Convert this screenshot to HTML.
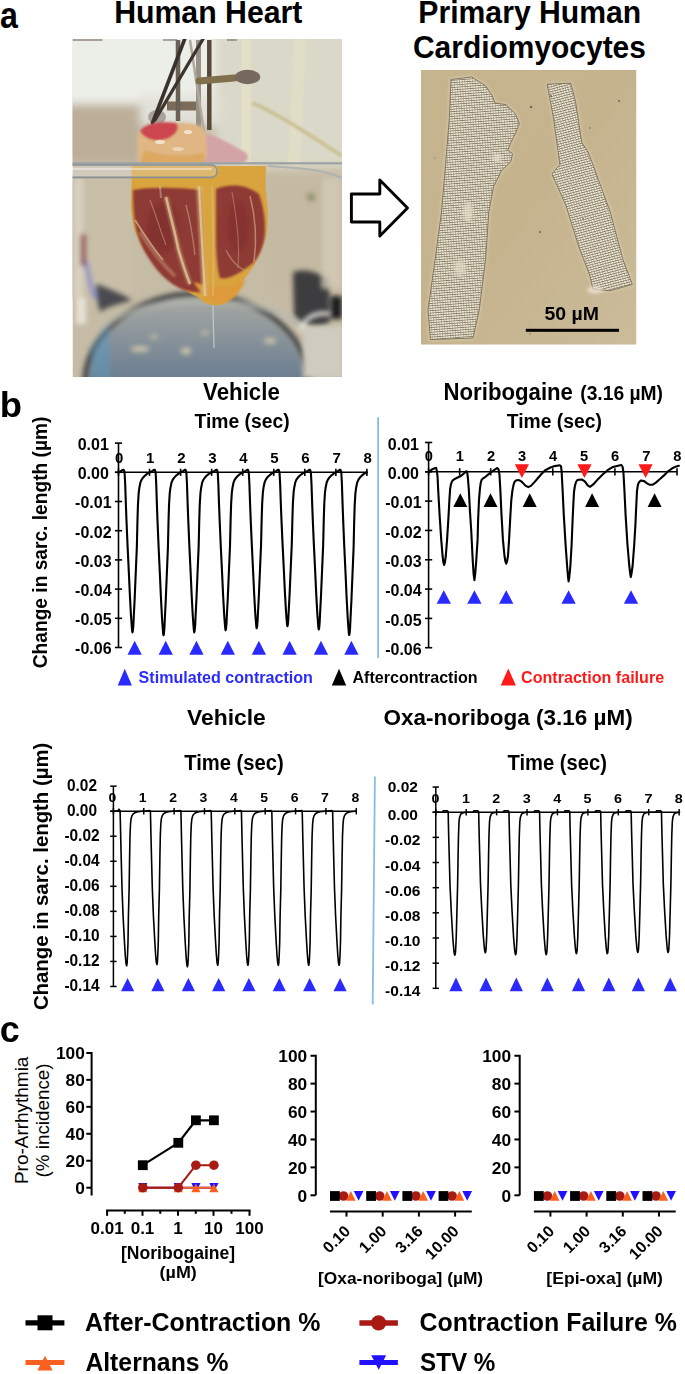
<!DOCTYPE html>
<html><head><meta charset="utf-8"><style>
html,body{margin:0;padding:0;background:#fff;width:685px;height:1374px;overflow:hidden}
svg{display:block}
text{font-family:"Liberation Sans",sans-serif}
</style></head><body>
<svg width="685" height="1374" viewBox="0 0 685 1374">
<text x="0.08" y="27.70" font-size="36.11" font-weight="bold" textLength="17.89" lengthAdjust="spacingAndGlyphs" fill="#000">a</text>
<text x="114.13" y="23.00" font-size="31.88" font-weight="bold" textLength="188.28" lengthAdjust="spacingAndGlyphs" fill="#000">Human Heart</text>
<text x="418.34" y="23.10" font-size="31.59" font-weight="bold" textLength="222.92" lengthAdjust="spacingAndGlyphs" fill="#000">Primary Human</text>
<text x="413.00" y="57.70" font-size="31.71" font-weight="bold" textLength="232.92" lengthAdjust="spacingAndGlyphs" fill="#000">Cardiomyocytes</text>
<defs><clipPath id="hc"><rect x="72.5" y="39" width="269.5" height="338"/></clipPath><filter id="b05" x="-20%" y="-20%" width="140%" height="140%"><feGaussianBlur stdDeviation="0.6"/></filter><filter id="b1" x="-20%" y="-20%" width="140%" height="140%"><feGaussianBlur stdDeviation="1.2"/></filter><filter id="b2" x="-20%" y="-20%" width="140%" height="140%"><feGaussianBlur stdDeviation="2.5"/></filter><filter id="b4" x="-30%" y="-30%" width="160%" height="160%"><feGaussianBlur stdDeviation="5"/></filter><linearGradient id="disc" x1="0" y1="0" x2="0" y2="1"><stop offset="0" stop-color="#a7aaa4"/><stop offset="0.22" stop-color="#8a949a"/><stop offset="0.45" stop-color="#6d7f91"/><stop offset="1" stop-color="#66809a"/></linearGradient></defs>
<g clip-path="url(#hc)">
<rect x="72.5" y="39" width="269.5" height="338" fill="#c6bca6"/>
<g filter="url(#b4)"><rect x="60" y="30" width="175" height="74" fill="#eceee8"/><rect x="215" y="30" width="140" height="138" fill="#dad8c8"/><rect x="60" y="104" width="80" height="58" fill="#bcae99"/><rect x="140" y="95" width="80" height="30" fill="#e2e2da"/><rect x="60" y="178" width="72" height="120" fill="#c9bfa9"/><rect x="266" y="178" width="80" height="120" fill="#c4b9a1"/></g>
<g filter="url(#b1)" opacity="0.95"><path d="M246,39 V165" stroke="#e4e0c8" stroke-width="10"/><path d="M300,39 L294,165" stroke="#e2dec6" stroke-width="12"/><path d="M252,103 C270,110 290,122 342,156" stroke="#cbbf92" stroke-width="3.5" fill="none"/></g>
<g filter="url(#b05)"><path d="M167,106 H199" stroke="#7a6c58" stroke-width="9"/><ellipse cx="157" cy="117" rx="9" ry="7" fill="#a8a298"/><path d="M178,40 V121" stroke="#675e55" stroke-width="4.5"/><path d="M198.5,40 V134" stroke="#9a9186" stroke-width="5"/><path d="M209.3,40 V130" stroke="#574838" stroke-width="4.5"/><path d="M190,40 L204,132" stroke="#b0a89c" stroke-width="2.5"/><path d="M184.7,39 L152.5,123" stroke="#3a332e" stroke-width="3.6" stroke-linecap="round"/><path d="M203,39 L155,120" stroke="#3d352f" stroke-width="3.4" stroke-linecap="round"/><path d="M199,81 L234,78" stroke="#80704c" stroke-width="7" stroke-linecap="round"/><ellipse cx="247.5" cy="77" rx="12.8" ry="7.2" fill="#76695e"/><rect x="72.5" y="39" width="30" height="2" fill="#8a7f70" opacity="0.7"/><rect x="163" y="39" width="14" height="2" fill="#7a7068" opacity="0.6"/><rect x="227" y="39" width="10" height="2" fill="#7a7068" opacity="0.6"/></g>
<g filter="url(#b2)"><rect x="74" y="178" width="9" height="120" fill="#dcd6c8" opacity="0.8"/><path d="M96,284 C108,288 122,294 132,300 C120,304 108,306 100,312 C97,302 96,292 96,284 Z" fill="#33363f" opacity="0.85"/><path d="M86,262 C88,275 91,288 95,298" stroke="#5a6ee0" stroke-width="4" fill="none" opacity="0.6"/><rect x="80.5" y="234" width="5" height="32" fill="#7a2a36" opacity="0.8"/><rect x="76" y="298" width="10" height="26" fill="#e6e2d6"/><path d="M293,272 C305,268 318,272 329,279 L330,322 C318,330 300,325 294,315 Z" fill="#3d3d40"/><rect x="331" y="296" width="11" height="23" fill="#1f1f23"/><rect x="322" y="178" width="20" height="110" fill="#d2cab6" opacity="0.8"/><circle cx="311" cy="197" r="4" fill="#8c9070"/></g>
<g filter="url(#b2)"><ellipse cx="197" cy="384" rx="112" ry="90" fill="none" stroke="#45464a" stroke-width="6"/><ellipse cx="197" cy="384" rx="108" ry="86" fill="url(#disc)"/><path d="M100,330 C120,310 160,302 200,301 C240,301 280,308 300,325" stroke="#b4b8b2" stroke-width="5" fill="none" opacity="0.7"/><path d="M92,350 C95,340 100,332 110,325 L110,377 L92,377 Z" fill="#5a9ac0" opacity="0.5"/><ellipse cx="140" cy="349" rx="9" ry="2.5" fill="#d0c8aa"/><ellipse cx="186" cy="351" rx="5" ry="3" fill="#d0c8aa"/><ellipse cx="154" cy="337" rx="4" ry="1.6" fill="#d0c8aa"/><ellipse cx="270" cy="341" rx="6" ry="2.5" fill="#d0c8aa"/><ellipse cx="205" cy="333" rx="4" ry="1.6" fill="#d0c8aa"/></g>
<path d="M213,305 C213,320 214,335 214,348" stroke="#d8dde0" stroke-width="1.2" opacity="0.7" fill="none"/>
<g filter="url(#b2)"><rect x="303" y="326" width="40" height="52" fill="#cfcbc0"/><path d="M300,330 C305,318 315,312 330,314" stroke="#e8e6e0" stroke-width="4" fill="none"/></g>
<g filter="url(#b1)"><path d="M204,134 C215,134 232,145 245,152 C250,156 248,162 242,163 L204,163 Z" fill="#d3a4a6"/><path d="M137.5,140 C137,128 150,122.5 172,122.8 C190,123 203,124 205,132 C208,145 207,158 204,164 L139,164 C137,156 137.5,148 137.5,140 Z" fill="#e0b684"/><path d="M140,131 C146,123 160,121 176,123 C181,128 175,136 166,139 C156,142 145,140 140,131 Z" fill="#cc4450"/><path d="M145,150 C160,156 190,158 204,152 L204,163 L140,163 Z" fill="#dca65a" opacity="0.8"/></g>
<g filter="url(#b05)" opacity="0.8"><ellipse cx="160" cy="142" rx="5" ry="2" fill="#f6eee0"/><ellipse cx="188" cy="132" rx="4" ry="2" fill="#f6eee0"/><ellipse cx="178" cy="149" rx="6" ry="2" fill="#efdcc0"/></g>
<g filter="url(#b05)"><path d="M131.6,166 L266.2,166 C265,180 265.5,190 267.3,204 C268,215 268,228 266,236 C264,244 260,254 254.2,265.1 C250,272 246,277 243.2,280.4 C238,287 236,290 234.5,291.4 C231,296 229,299 228,300 C224,304 220,305.6 217,305.6 C211,305 207,304 203.8,302.3 C200,299 198,297 195,295.8 C188,292 184,290 179.7,287 C172,282 168,279 164.4,276 C158,270 154,265 151.3,260.7 C146,253 143,249 140.3,243.2 C137,236 135,231 133.8,225.7 C131.5,216 131,210 131.1,203.8 C131,196 131.3,188 131.6,182 Z" fill="#d9a33e"/></g>
<g filter="url(#b1)"><path d="M133,190 C150,187 175,187 200,190 C202,215 203,240 204,262 C204,272 204,282 203,292 C192,293 182,290 174,285 C165,279 158,272 152,263 C144,252 139,241 136,229 C133.5,217 133,203 133,190 Z" fill="#8f3a36"/><path d="M216,189 C228,184 245,183 259,194 C265,210 266,230 264,240 C262,250 258,258 253,263 C247,268 241,272 235,275 C229,278 223,279 220,278 C217,270 216,250 216,236 C216,220 216,205 216,189 Z" fill="#8f3b36"/><path d="M194,282 C203,298 214,305 226,303 C234,299 240,292 246,280 C238,284 228,287 219,287 C210,287 201,285 194,282 Z" fill="#de9a3a"/></g>
<g filter="url(#b2)" opacity="0.5"><ellipse cx="163" cy="228" rx="17" ry="26" fill="#7a2a2c"/><ellipse cx="238" cy="226" rx="11" ry="26" fill="#7c2c2d"/></g>
<g filter="url(#b1)" fill="none" opacity="0.6"><path d="M166,197 C170,215 175,232 178,248 C182,262 186,274 190,284" stroke="#c9a078" stroke-width="5"/><path d="M199,186 C201,220 203,255 205,296" stroke="#d8b47c" stroke-width="6"/><path d="M140,232 C150,248 160,262 175,276" stroke="#c49070" stroke-width="3.5"/></g>
<g filter="url(#b05)" fill="none" opacity="0.85"><path d="M166,197 C170,215 175,232 178,248 C182,262 186,274 190,284" stroke="#dcc094" stroke-width="2.4"/><path d="M135,220 C145,236 153,248 163,260" stroke="#cfa886" stroke-width="1.6"/><path d="M186,205 C190,220 193,238 195,255" stroke="#cda486" stroke-width="1.3" opacity="0.7"/><path d="M199,186 C201,220 203,255 205,296" stroke="#e2c894" stroke-width="2.2"/><path d="M212,186 C213,220 214,255 213,296" stroke="#dcbc84" stroke-width="1.6" opacity="0.7"/><path d="M250,196 C255,215 257,240 254,262" stroke="#cfa888" stroke-width="1.5" opacity="0.8"/><path d="M150,200 C156,215 160,230 166,245" stroke="#c89a80" stroke-width="1.1" opacity="0.7"/><path d="M232,192 C236,215 240,240 238,268" stroke="#c99c84" stroke-width="1.1" opacity="0.6"/><path d="M226,250 C232,262 240,270 250,272" stroke="#d0a884" stroke-width="1.3" opacity="0.7"/><path d="M160,186 L161,198" stroke="#eeeeee" stroke-width="2" opacity="0.4"/></g>
<g filter="url(#b05)"><rect x="72" y="162.2" width="272" height="2.2" fill="#9ca2a4"/><path d="M72,164.5 H212 A6.5,6.5 0 0 1 212,177.5 H72 Z" fill="#e8ecec" opacity="0.3"/><path d="M72,165 H212 A6.3,6.3 0 0 1 212,177.4 H72" stroke="#868e94" stroke-width="1.6" fill="none"/><rect x="72" y="168" width="140" height="2" fill="#ffffff" opacity="0.4"/><path d="M268,166 C300,168 325,170 342,178" stroke="#aeb2b0" stroke-width="2" fill="none"/></g>
</g>
<defs><clipPath id="cc"><rect x="421" y="70" width="215.5" height="274.7"/></clipPath><pattern id="cellp" width="2.6" height="2.4" patternUnits="userSpaceOnUse" patternTransform="rotate(-4.4)"><rect width="2.6" height="2.4" fill="#f0eada"/><rect x="0" y="1.6" width="2.6" height="0.75" fill="#7a6f58"/><rect x="1.95" y="0" width="0.6" height="2.4" fill="#9d927a"/></pattern><pattern id="cellp2" width="2.6" height="2.4" patternUnits="userSpaceOnUse" patternTransform="rotate(-14.6)"><rect width="2.6" height="2.4" fill="#f0eada"/><rect x="0" y="1.6" width="2.6" height="0.75" fill="#7a6f58"/><rect x="1.95" y="0" width="0.6" height="2.4" fill="#9d927a"/></pattern><filter id="cb" x="-10%" y="-10%" width="120%" height="120%"><feGaussianBlur stdDeviation="0.5"/></filter><filter id="cb2" x="-20%" y="-20%" width="140%" height="140%"><feGaussianBlur stdDeviation="1.5"/></filter><linearGradient id="cbg" x1="0" y1="0" x2="1" y2="1"><stop offset="0" stop-color="#c6b48f"/><stop offset="0.5" stop-color="#c5b38e"/><stop offset="1" stop-color="#cbbb98"/></linearGradient></defs>
<g clip-path="url(#cc)">
<rect x="421.0" y="70.0" width="215.5" height="274.7" fill="url(#cbg)"/>
<g filter="url(#cb2)" opacity="0.55"><path d="M451,79.5 L471.5,77 L485.6,85.8 L492,95.2 L495,103 L506,104.7 L515.6,114.1 L519.4,123.6 L515.6,133 L510.9,142.5 L507.7,150.4 L512.5,153.6 L510.9,161.5 L501.4,170.9 L493.5,186.7 L488.8,211.9 L485.6,259.2 L479.3,309.7 L473,338 L430.5,339.6 L428,309.7 L435.2,259.2 L441.5,211.9 L445.6,164.6 L449.4,117.3 Z" fill="none" stroke="#e2d8c0" stroke-width="3"/><path d="M547.1,84.2 L570.8,83.2 L575.5,101.5 L581.8,142.5 L588.1,152 L592.9,164.6 L610.2,211.9 L622.8,259.2 L632.3,284.4 L610.2,290.8 L592.9,289.2 L589.7,275 L578.7,246.6 L566,205.6 L551.9,174.1 L559.8,164.6 L558.2,152 L553.4,117.3 Z" fill="none" stroke="#e2d8c0" stroke-width="3"/></g>
<g filter="url(#cb)"><path d="M451,79.5 L471.5,77 L485.6,85.8 L492,95.2 L495,103 L506,104.7 L515.6,114.1 L519.4,123.6 L515.6,133 L510.9,142.5 L507.7,150.4 L512.5,153.6 L510.9,161.5 L501.4,170.9 L493.5,186.7 L488.8,211.9 L485.6,259.2 L479.3,309.7 L473,338 L430.5,339.6 L428,309.7 L435.2,259.2 L441.5,211.9 L445.6,164.6 L449.4,117.3 Z" fill="url(#cellp)" stroke="#7a6e55" stroke-width="0.9"/><path d="M547.1,84.2 L570.8,83.2 L575.5,101.5 L581.8,142.5 L588.1,152 L592.9,164.6 L610.2,211.9 L622.8,259.2 L632.3,284.4 L610.2,290.8 L592.9,289.2 L589.7,275 L578.7,246.6 L566,205.6 L551.9,174.1 L559.8,164.6 L558.2,152 L553.4,117.3 Z" fill="url(#cellp2)" stroke="#7a6e55" stroke-width="0.9"/></g>
<g filter="url(#cb2)" opacity="0.7"><ellipse cx="468" cy="212" rx="5" ry="10" fill="#e6ddc8"/><ellipse cx="460" cy="268" rx="6" ry="8" fill="#e3d9c3"/><ellipse cx="497" cy="158" rx="5" ry="4" fill="#e8dfcb"/><ellipse cx="595" cy="290" rx="8" ry="4" fill="#ece5d4"/></g>
<circle cx="531" cy="107" r="1.2" fill="#5d5444" opacity="0.8"/>
<circle cx="551" cy="96" r="0.9" fill="#5d5444" opacity="0.8"/>
<circle cx="619" cy="101" r="1.0" fill="#5d5444" opacity="0.8"/>
<circle cx="590" cy="128" r="0.8" fill="#5d5444" opacity="0.8"/>
<circle cx="540" cy="232" r="1.0" fill="#5d5444" opacity="0.8"/>
<circle cx="583" cy="219" r="0.8" fill="#5d5444" opacity="0.8"/>
<circle cx="530" cy="334" r="0.7" fill="#5d5444" opacity="0.8"/>
<circle cx="435" cy="158" r="0.6" fill="#5d5444" opacity="0.8"/>
<circle cx="600" cy="330" r="0.8" fill="#5d5444" opacity="0.8"/>
<circle cx="560" cy="310" r="0.7" fill="#5d5444" opacity="0.8"/>
</g>
<text x="544.42" y="319.50" font-size="17.43" font-weight="bold" textLength="54.54" lengthAdjust="spacingAndGlyphs" fill="#000">50 µM</text>
<rect x="525.8" y="328.8" width="93.2" height="3" fill="#000"/>
<path d="M351.4,194 H379.8 V180 L407.5,208 L379.8,236 V222 H351.4 Z" fill="#fff" stroke="#000" stroke-width="2.9" stroke-linejoin="round"/>
<text x="-0.37" y="416.60" font-size="35.31" font-weight="bold" textLength="22.26" lengthAdjust="spacingAndGlyphs" fill="#000">b</text>
<g transform="rotate(-90)"><text x="-668.27" y="47.20" font-size="20.14" font-weight="bold" textLength="251.69" lengthAdjust="spacingAndGlyphs" fill="#000">Change in sarc. length (µm)</text></g>
<g transform="rotate(-90)"><text x="-1010.11" y="48.30" font-size="20.69" font-weight="bold" textLength="267.50" lengthAdjust="spacingAndGlyphs" fill="#000">Change in sarc. length (µm)</text></g>
<text x="203.08" y="400.00" font-size="23.77" font-weight="bold" textLength="76.73" lengthAdjust="spacingAndGlyphs" fill="#000">Vehicle</text>
<text x="194.51" y="427.70" font-size="19.57" font-weight="bold" textLength="95.12" lengthAdjust="spacingAndGlyphs" fill="#000">Time (sec)</text>
<text x="443.56" y="399.90" font-size="23.04" font-weight="bold" textLength="129.39" lengthAdjust="spacingAndGlyphs" fill="#000">Noribogaine</text>
<text x="580.24" y="400.10" font-size="19.86" font-weight="bold" textLength="82.71" lengthAdjust="spacingAndGlyphs" fill="#000">(3.16 µM)</text>
<text x="506.71" y="428.10" font-size="19.57" font-weight="bold" textLength="95.12" lengthAdjust="spacingAndGlyphs" fill="#000">Time (sec)</text>
<text x="187.07" y="724.90" font-size="22.46" font-weight="bold" textLength="78.65" lengthAdjust="spacingAndGlyphs" fill="#000">Vehicle</text>
<text x="184.20" y="769.50" font-size="21.16" font-weight="bold" textLength="99.48" lengthAdjust="spacingAndGlyphs" fill="#000">Time (sec)</text>
<text x="383.60" y="725.10" font-size="21.74" font-weight="bold" textLength="249.07" lengthAdjust="spacingAndGlyphs" fill="#000">Oxa-noriboga (3.16 µM)</text>
<text x="507.50" y="769.50" font-size="21.16" font-weight="bold" textLength="99.38" lengthAdjust="spacingAndGlyphs" fill="#000">Time (sec)</text>
<path d="M117.70,685.50 L131.90,685.50 L124.80,668.80 Z" fill="#2a2aff"/>
<text x="138.62" y="683.00" font-size="16.00" font-weight="bold" textLength="174.34" lengthAdjust="spacingAndGlyphs" fill="#2a2aff">Stimulated contraction</text>
<path d="M331.80,685.50 L346.20,685.50 L339.00,668.80 Z" fill="#000"/>
<text x="352.50" y="683.00" font-size="16.23" font-weight="bold" textLength="125.02" lengthAdjust="spacingAndGlyphs" fill="#000">Aftercontraction</text>
<path d="M500.70,685.60 L515.90,685.60 L508.30,668.60 Z" fill="#ff1a1a"/>
<text x="521.06" y="683.10" font-size="16.14" font-weight="bold" textLength="143.10" lengthAdjust="spacingAndGlyphs" fill="#ff1a1a">Contraction failure</text>
<path d="M378.1,417.2 V657.9" stroke="#86bde3" stroke-width="1.8"/>
<path d="M374.9,776.4 L372.7,1004.5" stroke="#86bde3" stroke-width="1.8"/>
<path d="M118.50,443.10 V647.50" stroke="#000" stroke-width="1.6" fill="none"/>
<path d="M114.90,472.30 H366.90" stroke="#000" stroke-width="1.6" fill="none"/>
<path d="M114.90,443.10 H122.10" stroke="#000" stroke-width="1.6"/>
<path d="M114.90,472.30 H122.10" stroke="#000" stroke-width="1.6"/>
<path d="M114.90,501.50 H122.10" stroke="#000" stroke-width="1.6"/>
<path d="M114.90,530.70 H122.10" stroke="#000" stroke-width="1.6"/>
<path d="M114.90,559.90 H122.10" stroke="#000" stroke-width="1.6"/>
<path d="M114.90,589.10 H122.10" stroke="#000" stroke-width="1.6"/>
<path d="M114.90,618.30 H122.10" stroke="#000" stroke-width="1.6"/>
<path d="M114.90,647.50 H122.10" stroke="#000" stroke-width="1.6"/>
<text x="93.30" y="450.08" font-size="16.00" font-weight="bold" text-anchor="middle" textLength="31.14" lengthAdjust="spacingAndGlyphs" fill="#000">0.01</text>
<text x="93.30" y="479.28" font-size="16.00" font-weight="bold" text-anchor="middle" textLength="31.14" lengthAdjust="spacingAndGlyphs" fill="#000">0.00</text>
<text x="93.30" y="508.48" font-size="16.00" font-weight="bold" text-anchor="middle" textLength="36.47" lengthAdjust="spacingAndGlyphs" fill="#000">-0.01</text>
<text x="93.30" y="537.68" font-size="16.00" font-weight="bold" text-anchor="middle" textLength="36.47" lengthAdjust="spacingAndGlyphs" fill="#000">-0.02</text>
<text x="93.30" y="566.88" font-size="16.00" font-weight="bold" text-anchor="middle" textLength="36.47" lengthAdjust="spacingAndGlyphs" fill="#000">-0.03</text>
<text x="93.30" y="596.08" font-size="16.00" font-weight="bold" text-anchor="middle" textLength="36.47" lengthAdjust="spacingAndGlyphs" fill="#000">-0.04</text>
<text x="93.30" y="625.28" font-size="16.00" font-weight="bold" text-anchor="middle" textLength="36.47" lengthAdjust="spacingAndGlyphs" fill="#000">-0.05</text>
<text x="93.30" y="654.48" font-size="16.00" font-weight="bold" text-anchor="middle" textLength="36.47" lengthAdjust="spacingAndGlyphs" fill="#000">-0.06</text>
<path d="M118.50,468.70 V475.90" stroke="#000" stroke-width="1.6"/>
<text x="119.20" y="462.70" font-size="14.30" font-weight="bold" text-anchor="middle" textLength="8.35" lengthAdjust="spacingAndGlyphs" fill="#000">0</text>
<path d="M149.55,468.70 V475.90" stroke="#000" stroke-width="1.6"/>
<text x="150.25" y="462.70" font-size="14.30" font-weight="bold" text-anchor="middle" textLength="8.35" lengthAdjust="spacingAndGlyphs" fill="#000">1</text>
<path d="M180.60,468.70 V475.90" stroke="#000" stroke-width="1.6"/>
<text x="181.30" y="462.70" font-size="14.30" font-weight="bold" text-anchor="middle" textLength="8.35" lengthAdjust="spacingAndGlyphs" fill="#000">2</text>
<path d="M211.65,468.70 V475.90" stroke="#000" stroke-width="1.6"/>
<text x="212.35" y="462.70" font-size="14.30" font-weight="bold" text-anchor="middle" textLength="8.35" lengthAdjust="spacingAndGlyphs" fill="#000">3</text>
<path d="M242.70,468.70 V475.90" stroke="#000" stroke-width="1.6"/>
<text x="243.40" y="462.70" font-size="14.30" font-weight="bold" text-anchor="middle" textLength="8.35" lengthAdjust="spacingAndGlyphs" fill="#000">4</text>
<path d="M273.75,468.70 V475.90" stroke="#000" stroke-width="1.6"/>
<text x="274.45" y="462.70" font-size="14.30" font-weight="bold" text-anchor="middle" textLength="8.35" lengthAdjust="spacingAndGlyphs" fill="#000">5</text>
<path d="M304.80,468.70 V475.90" stroke="#000" stroke-width="1.6"/>
<text x="305.50" y="462.70" font-size="14.30" font-weight="bold" text-anchor="middle" textLength="8.35" lengthAdjust="spacingAndGlyphs" fill="#000">6</text>
<path d="M335.85,468.70 V475.90" stroke="#000" stroke-width="1.6"/>
<text x="336.55" y="462.70" font-size="14.30" font-weight="bold" text-anchor="middle" textLength="8.35" lengthAdjust="spacingAndGlyphs" fill="#000">7</text>
<path d="M366.90,468.70 V475.90" stroke="#000" stroke-width="1.6"/>
<text x="367.60" y="462.70" font-size="14.30" font-weight="bold" text-anchor="middle" textLength="8.35" lengthAdjust="spacingAndGlyphs" fill="#000">8</text>
<path d="M428.60,442.48 V647.72" stroke="#000" stroke-width="1.6" fill="none"/>
<path d="M425.00,471.80 H677.00" stroke="#000" stroke-width="1.6" fill="none"/>
<path d="M425.00,442.48 H432.20" stroke="#000" stroke-width="1.6"/>
<path d="M425.00,471.80 H432.20" stroke="#000" stroke-width="1.6"/>
<path d="M425.00,501.12 H432.20" stroke="#000" stroke-width="1.6"/>
<path d="M425.00,530.44 H432.20" stroke="#000" stroke-width="1.6"/>
<path d="M425.00,559.76 H432.20" stroke="#000" stroke-width="1.6"/>
<path d="M425.00,589.08 H432.20" stroke="#000" stroke-width="1.6"/>
<path d="M425.00,618.40 H432.20" stroke="#000" stroke-width="1.6"/>
<path d="M425.00,647.72 H432.20" stroke="#000" stroke-width="1.6"/>
<text x="403.40" y="449.66" font-size="16.00" font-weight="bold" text-anchor="middle" textLength="31.14" lengthAdjust="spacingAndGlyphs" fill="#000">0.01</text>
<text x="403.40" y="478.98" font-size="16.00" font-weight="bold" text-anchor="middle" textLength="31.14" lengthAdjust="spacingAndGlyphs" fill="#000">0.00</text>
<text x="403.40" y="508.30" font-size="16.00" font-weight="bold" text-anchor="middle" textLength="36.47" lengthAdjust="spacingAndGlyphs" fill="#000">-0.01</text>
<text x="403.40" y="537.62" font-size="16.00" font-weight="bold" text-anchor="middle" textLength="36.47" lengthAdjust="spacingAndGlyphs" fill="#000">-0.02</text>
<text x="403.40" y="566.94" font-size="16.00" font-weight="bold" text-anchor="middle" textLength="36.47" lengthAdjust="spacingAndGlyphs" fill="#000">-0.03</text>
<text x="403.40" y="596.26" font-size="16.00" font-weight="bold" text-anchor="middle" textLength="36.47" lengthAdjust="spacingAndGlyphs" fill="#000">-0.04</text>
<text x="403.40" y="625.58" font-size="16.00" font-weight="bold" text-anchor="middle" textLength="36.47" lengthAdjust="spacingAndGlyphs" fill="#000">-0.05</text>
<text x="403.40" y="654.90" font-size="16.00" font-weight="bold" text-anchor="middle" textLength="36.47" lengthAdjust="spacingAndGlyphs" fill="#000">-0.06</text>
<path d="M428.60,468.20 V475.40" stroke="#000" stroke-width="1.6"/>
<text x="428.90" y="461.20" font-size="14.00" font-weight="bold" text-anchor="middle" textLength="8.18" lengthAdjust="spacingAndGlyphs" fill="#000">0</text>
<path d="M459.65,468.20 V475.40" stroke="#000" stroke-width="1.6"/>
<text x="459.95" y="461.20" font-size="14.00" font-weight="bold" text-anchor="middle" textLength="8.18" lengthAdjust="spacingAndGlyphs" fill="#000">1</text>
<path d="M490.70,468.20 V475.40" stroke="#000" stroke-width="1.6"/>
<text x="491.00" y="461.20" font-size="14.00" font-weight="bold" text-anchor="middle" textLength="8.18" lengthAdjust="spacingAndGlyphs" fill="#000">2</text>
<path d="M521.75,468.20 V475.40" stroke="#000" stroke-width="1.6"/>
<text x="522.05" y="461.20" font-size="14.00" font-weight="bold" text-anchor="middle" textLength="8.18" lengthAdjust="spacingAndGlyphs" fill="#000">3</text>
<path d="M552.80,468.20 V475.40" stroke="#000" stroke-width="1.6"/>
<text x="553.10" y="461.20" font-size="14.00" font-weight="bold" text-anchor="middle" textLength="8.18" lengthAdjust="spacingAndGlyphs" fill="#000">4</text>
<path d="M583.85,468.20 V475.40" stroke="#000" stroke-width="1.6"/>
<text x="584.15" y="461.20" font-size="14.00" font-weight="bold" text-anchor="middle" textLength="8.18" lengthAdjust="spacingAndGlyphs" fill="#000">5</text>
<path d="M614.90,468.20 V475.40" stroke="#000" stroke-width="1.6"/>
<text x="615.20" y="461.20" font-size="14.00" font-weight="bold" text-anchor="middle" textLength="8.18" lengthAdjust="spacingAndGlyphs" fill="#000">6</text>
<path d="M645.95,468.20 V475.40" stroke="#000" stroke-width="1.6"/>
<text x="646.25" y="461.20" font-size="14.00" font-weight="bold" text-anchor="middle" textLength="8.18" lengthAdjust="spacingAndGlyphs" fill="#000">7</text>
<path d="M677.00,468.20 V475.40" stroke="#000" stroke-width="1.6"/>
<text x="677.30" y="461.20" font-size="14.00" font-weight="bold" text-anchor="middle" textLength="8.18" lengthAdjust="spacingAndGlyphs" fill="#000">8</text>
<path d="M113.40,786.16 V986.48" stroke="#000" stroke-width="1.5" fill="none"/>
<path d="M110.20,811.20 H356.28" stroke="#000" stroke-width="1.5" fill="none"/>
<path d="M110.20,786.16 H116.60" stroke="#000" stroke-width="1.5"/>
<path d="M110.20,811.20 H116.60" stroke="#000" stroke-width="1.5"/>
<path d="M110.20,836.24 H116.60" stroke="#000" stroke-width="1.5"/>
<path d="M110.20,861.28 H116.60" stroke="#000" stroke-width="1.5"/>
<path d="M110.20,886.32 H116.60" stroke="#000" stroke-width="1.5"/>
<path d="M110.20,911.36 H116.60" stroke="#000" stroke-width="1.5"/>
<path d="M110.20,936.40 H116.60" stroke="#000" stroke-width="1.5"/>
<path d="M110.20,961.44 H116.60" stroke="#000" stroke-width="1.5"/>
<path d="M110.20,986.48 H116.60" stroke="#000" stroke-width="1.5"/>
<text x="82.00" y="790.74" font-size="15.60" font-weight="bold" text-anchor="middle" textLength="30.06" lengthAdjust="spacingAndGlyphs" fill="#000">0.02</text>
<text x="82.00" y="815.76" font-size="15.60" font-weight="bold" text-anchor="middle" textLength="30.06" lengthAdjust="spacingAndGlyphs" fill="#000">0.00</text>
<text x="82.00" y="840.78" font-size="15.60" font-weight="bold" text-anchor="middle" textLength="35.20" lengthAdjust="spacingAndGlyphs" fill="#000">-0.02</text>
<text x="82.00" y="865.80" font-size="15.60" font-weight="bold" text-anchor="middle" textLength="35.20" lengthAdjust="spacingAndGlyphs" fill="#000">-0.04</text>
<text x="82.00" y="890.82" font-size="15.60" font-weight="bold" text-anchor="middle" textLength="35.20" lengthAdjust="spacingAndGlyphs" fill="#000">-0.06</text>
<text x="82.00" y="915.84" font-size="15.60" font-weight="bold" text-anchor="middle" textLength="35.20" lengthAdjust="spacingAndGlyphs" fill="#000">-0.08</text>
<text x="82.00" y="940.86" font-size="15.60" font-weight="bold" text-anchor="middle" textLength="35.20" lengthAdjust="spacingAndGlyphs" fill="#000">-0.10</text>
<text x="82.00" y="965.88" font-size="15.60" font-weight="bold" text-anchor="middle" textLength="35.20" lengthAdjust="spacingAndGlyphs" fill="#000">-0.12</text>
<text x="82.00" y="990.90" font-size="15.60" font-weight="bold" text-anchor="middle" textLength="35.20" lengthAdjust="spacingAndGlyphs" fill="#000">-0.14</text>
<path d="M113.40,808.00 V814.40" stroke="#000" stroke-width="1.5"/>
<text x="112.40" y="801.60" font-size="13.00" font-weight="bold" text-anchor="middle" textLength="7.81" lengthAdjust="spacingAndGlyphs" fill="#000">0</text>
<path d="M143.76,808.00 V814.40" stroke="#000" stroke-width="1.5"/>
<text x="142.76" y="801.60" font-size="13.00" font-weight="bold" text-anchor="middle" textLength="7.81" lengthAdjust="spacingAndGlyphs" fill="#000">1</text>
<path d="M174.12,808.00 V814.40" stroke="#000" stroke-width="1.5"/>
<text x="173.12" y="801.60" font-size="13.00" font-weight="bold" text-anchor="middle" textLength="7.81" lengthAdjust="spacingAndGlyphs" fill="#000">2</text>
<path d="M204.48,808.00 V814.40" stroke="#000" stroke-width="1.5"/>
<text x="203.48" y="801.60" font-size="13.00" font-weight="bold" text-anchor="middle" textLength="7.81" lengthAdjust="spacingAndGlyphs" fill="#000">3</text>
<path d="M234.84,808.00 V814.40" stroke="#000" stroke-width="1.5"/>
<text x="233.84" y="801.60" font-size="13.00" font-weight="bold" text-anchor="middle" textLength="7.81" lengthAdjust="spacingAndGlyphs" fill="#000">4</text>
<path d="M265.20,808.00 V814.40" stroke="#000" stroke-width="1.5"/>
<text x="264.20" y="801.60" font-size="13.00" font-weight="bold" text-anchor="middle" textLength="7.81" lengthAdjust="spacingAndGlyphs" fill="#000">5</text>
<path d="M295.56,808.00 V814.40" stroke="#000" stroke-width="1.5"/>
<text x="294.56" y="801.60" font-size="13.00" font-weight="bold" text-anchor="middle" textLength="7.81" lengthAdjust="spacingAndGlyphs" fill="#000">6</text>
<path d="M325.92,808.00 V814.40" stroke="#000" stroke-width="1.5"/>
<text x="324.92" y="801.60" font-size="13.00" font-weight="bold" text-anchor="middle" textLength="7.81" lengthAdjust="spacingAndGlyphs" fill="#000">7</text>
<path d="M356.28,808.00 V814.40" stroke="#000" stroke-width="1.5"/>
<text x="355.28" y="801.60" font-size="13.00" font-weight="bold" text-anchor="middle" textLength="7.81" lengthAdjust="spacingAndGlyphs" fill="#000">8</text>
<path d="M435.80,787.04 V988.32" stroke="#000" stroke-width="1.5" fill="none"/>
<path d="M432.60,812.20 H679.16" stroke="#000" stroke-width="1.5" fill="none"/>
<path d="M432.60,787.04 H439.00" stroke="#000" stroke-width="1.5"/>
<path d="M432.60,812.20 H439.00" stroke="#000" stroke-width="1.5"/>
<path d="M432.60,837.36 H439.00" stroke="#000" stroke-width="1.5"/>
<path d="M432.60,862.52 H439.00" stroke="#000" stroke-width="1.5"/>
<path d="M432.60,887.68 H439.00" stroke="#000" stroke-width="1.5"/>
<path d="M432.60,912.84 H439.00" stroke="#000" stroke-width="1.5"/>
<path d="M432.60,938.00 H439.00" stroke="#000" stroke-width="1.5"/>
<path d="M432.60,963.16 H439.00" stroke="#000" stroke-width="1.5"/>
<path d="M432.60,988.32 H439.00" stroke="#000" stroke-width="1.5"/>
<text x="402.80" y="791.58" font-size="14.30" font-weight="bold" text-anchor="middle" textLength="30.20" lengthAdjust="spacingAndGlyphs" fill="#000">0.02</text>
<text x="402.80" y="819.98" font-size="14.30" font-weight="bold" text-anchor="middle" textLength="30.20" lengthAdjust="spacingAndGlyphs" fill="#000">0.00</text>
<text x="402.80" y="845.48" font-size="14.30" font-weight="bold" text-anchor="middle" textLength="35.36" lengthAdjust="spacingAndGlyphs" fill="#000">-0.02</text>
<text x="402.80" y="870.78" font-size="14.30" font-weight="bold" text-anchor="middle" textLength="35.36" lengthAdjust="spacingAndGlyphs" fill="#000">-0.04</text>
<text x="402.80" y="896.08" font-size="14.30" font-weight="bold" text-anchor="middle" textLength="35.36" lengthAdjust="spacingAndGlyphs" fill="#000">-0.06</text>
<text x="402.80" y="921.08" font-size="14.30" font-weight="bold" text-anchor="middle" textLength="35.36" lengthAdjust="spacingAndGlyphs" fill="#000">-0.08</text>
<text x="402.80" y="946.08" font-size="14.30" font-weight="bold" text-anchor="middle" textLength="35.36" lengthAdjust="spacingAndGlyphs" fill="#000">-0.10</text>
<text x="402.80" y="971.08" font-size="14.30" font-weight="bold" text-anchor="middle" textLength="35.36" lengthAdjust="spacingAndGlyphs" fill="#000">-0.12</text>
<text x="402.80" y="996.48" font-size="14.30" font-weight="bold" text-anchor="middle" textLength="35.36" lengthAdjust="spacingAndGlyphs" fill="#000">-0.14</text>
<path d="M435.80,809.00 V815.40" stroke="#000" stroke-width="1.5"/>
<text x="435.50" y="803.40" font-size="13.30" font-weight="bold" text-anchor="middle" textLength="7.99" lengthAdjust="spacingAndGlyphs" fill="#000">0</text>
<path d="M466.22,809.00 V815.40" stroke="#000" stroke-width="1.5"/>
<text x="465.92" y="803.40" font-size="13.30" font-weight="bold" text-anchor="middle" textLength="7.99" lengthAdjust="spacingAndGlyphs" fill="#000">1</text>
<path d="M496.64,809.00 V815.40" stroke="#000" stroke-width="1.5"/>
<text x="496.34" y="803.40" font-size="13.30" font-weight="bold" text-anchor="middle" textLength="7.99" lengthAdjust="spacingAndGlyphs" fill="#000">2</text>
<path d="M527.06,809.00 V815.40" stroke="#000" stroke-width="1.5"/>
<text x="526.76" y="803.40" font-size="13.30" font-weight="bold" text-anchor="middle" textLength="7.99" lengthAdjust="spacingAndGlyphs" fill="#000">3</text>
<path d="M557.48,809.00 V815.40" stroke="#000" stroke-width="1.5"/>
<text x="557.18" y="803.40" font-size="13.30" font-weight="bold" text-anchor="middle" textLength="7.99" lengthAdjust="spacingAndGlyphs" fill="#000">4</text>
<path d="M587.90,809.00 V815.40" stroke="#000" stroke-width="1.5"/>
<text x="587.60" y="803.40" font-size="13.30" font-weight="bold" text-anchor="middle" textLength="7.99" lengthAdjust="spacingAndGlyphs" fill="#000">5</text>
<path d="M618.32,809.00 V815.40" stroke="#000" stroke-width="1.5"/>
<text x="618.02" y="803.40" font-size="13.30" font-weight="bold" text-anchor="middle" textLength="7.99" lengthAdjust="spacingAndGlyphs" fill="#000">6</text>
<path d="M648.74,809.00 V815.40" stroke="#000" stroke-width="1.5"/>
<text x="648.44" y="803.40" font-size="13.30" font-weight="bold" text-anchor="middle" textLength="7.99" lengthAdjust="spacingAndGlyphs" fill="#000">7</text>
<path d="M679.16,809.00 V815.40" stroke="#000" stroke-width="1.5"/>
<text x="678.86" y="803.40" font-size="13.30" font-weight="bold" text-anchor="middle" textLength="7.99" lengthAdjust="spacingAndGlyphs" fill="#000">8</text>
<path d="M118.50,472.30 L120.00,471.70 L122.00,470.30 L123.27,469.70 L123.87,470.10 L124.57,472.30 L125.17,483.50 L125.87,504.31 L126.47,520.32 L127.57,545.92 L128.87,573.13 L129.97,597.14 L130.97,615.54 L131.67,625.15 L132.12,630.75 L132.47,632.35 L132.87,630.75 L133.37,625.15 L133.77,616.35 L134.67,598.74 L135.77,572.49 L136.87,546.40 L137.47,520.32 L137.97,504.31 L138.67,493.11 L139.27,488.31 L140.37,482.70 L141.47,479.98 L142.97,477.74 L144.77,475.82 L146.47,474.38 L148.07,473.26 L149.57,472.54 L150.52,472.00 L152.52,470.90 L154.02,469.80 L154.82,469.90 L155.62,472.30 L156.22,483.71 L156.92,504.89 L157.52,521.19 L158.62,547.26 L159.92,574.96 L161.02,599.41 L162.02,618.15 L162.72,627.93 L163.17,633.63 L163.52,635.26 L163.92,633.63 L164.42,627.93 L164.82,618.96 L165.72,601.04 L166.82,574.31 L167.92,547.75 L168.52,521.19 L169.02,504.89 L169.72,493.48 L170.32,488.60 L171.42,482.89 L172.52,480.12 L174.02,477.84 L175.82,475.89 L177.52,474.42 L179.12,473.28 L180.62,472.54 L181.26,472.00 L183.26,470.90 L184.76,469.80 L185.56,469.90 L186.36,472.30 L186.96,483.50 L187.66,504.31 L188.26,520.32 L189.36,545.92 L190.66,573.13 L191.76,597.14 L192.76,615.54 L193.46,625.15 L193.91,630.75 L194.26,632.35 L194.66,630.75 L195.16,625.15 L195.56,616.35 L196.46,598.74 L197.56,572.49 L198.66,546.40 L199.26,520.32 L199.76,504.31 L200.46,493.11 L201.06,488.31 L202.16,482.70 L203.26,479.98 L204.76,477.74 L206.56,475.82 L208.26,474.38 L209.86,473.26 L211.36,472.54 L212.62,472.00 L214.62,470.90 L216.12,469.80 L216.92,469.90 L217.72,472.30 L218.32,483.36 L219.02,503.90 L219.62,519.70 L220.72,544.99 L222.02,571.85 L223.12,595.55 L224.12,613.72 L224.82,623.20 L225.27,628.73 L225.62,630.31 L226.02,628.73 L226.52,623.20 L226.92,614.51 L227.82,597.13 L228.92,571.22 L230.02,545.46 L230.62,519.70 L231.12,503.90 L231.82,492.84 L232.42,488.10 L233.52,482.57 L234.62,479.88 L236.12,477.67 L237.92,475.78 L239.62,474.35 L241.22,473.25 L242.72,472.54 L243.67,472.00 L245.67,470.90 L247.17,469.80 L247.97,469.90 L248.77,472.30 L249.37,483.22 L250.07,503.50 L250.67,519.09 L251.77,544.05 L253.07,570.56 L254.17,593.96 L255.17,611.90 L255.87,621.26 L256.32,626.72 L256.67,628.28 L257.07,626.72 L257.57,621.26 L257.97,612.68 L258.87,595.52 L259.97,569.94 L261.07,544.52 L261.67,519.09 L262.17,503.50 L262.87,492.58 L263.47,487.90 L264.57,482.44 L265.67,479.79 L267.17,477.60 L268.97,475.73 L270.67,474.33 L272.27,473.24 L273.77,472.53 L274.41,472.00 L276.41,470.90 L277.91,469.80 L278.71,469.90 L279.51,472.30 L280.11,483.08 L280.81,503.09 L281.41,518.48 L282.51,543.11 L283.81,569.28 L284.91,592.37 L285.91,610.08 L286.61,619.31 L287.06,624.70 L287.41,626.24 L287.81,624.70 L288.31,619.31 L288.71,610.85 L289.61,593.91 L290.71,568.67 L291.81,543.57 L292.41,518.48 L292.91,503.09 L293.61,492.31 L294.21,487.69 L295.31,482.31 L296.41,479.69 L297.91,477.53 L299.71,475.69 L301.41,474.30 L303.01,473.22 L304.51,472.53 L305.77,472.00 L307.77,470.90 L309.27,469.80 L310.07,469.90 L310.87,472.30 L311.47,483.30 L312.17,503.73 L312.77,519.44 L313.87,544.58 L315.17,571.30 L316.27,594.87 L317.27,612.94 L317.97,622.37 L318.42,627.87 L318.77,629.44 L319.17,627.87 L319.67,622.37 L320.07,613.73 L320.97,596.44 L322.07,570.67 L323.17,545.06 L323.77,519.44 L324.27,503.73 L324.97,492.73 L325.57,488.01 L326.67,482.51 L327.77,479.84 L329.27,477.64 L331.07,475.76 L332.77,474.34 L334.37,473.24 L335.87,472.54 L336.20,472.00 L338.20,470.90 L339.70,469.80 L340.50,469.90 L341.30,472.30 L341.90,483.69 L342.60,504.83 L343.20,521.10 L344.30,547.13 L345.60,574.78 L346.70,599.18 L347.70,617.89 L348.40,627.65 L348.85,633.34 L349.20,634.97 L349.60,633.34 L350.10,627.65 L350.50,618.70 L351.40,600.81 L352.50,574.13 L353.60,547.62 L354.20,521.10 L354.70,504.83 L355.40,493.45 L356.00,488.57 L357.10,482.87 L358.20,480.11 L359.70,477.83 L361.50,475.88 L363.20,474.41 L364.80,473.28 L366.30,472.54 L366.90,472.30" fill="none" stroke="#000" stroke-width="2.1" stroke-linejoin="round" stroke-linecap="round" />
<path d="M127.52,654.70 L141.82,654.70 L134.67,640.70 Z" fill="#2a2aff"/>
<path d="M158.57,654.70 L172.87,654.70 L165.72,640.70 Z" fill="#2a2aff"/>
<path d="M189.31,654.70 L203.61,654.70 L196.46,640.70 Z" fill="#2a2aff"/>
<path d="M220.67,654.70 L234.97,654.70 L227.82,640.70 Z" fill="#2a2aff"/>
<path d="M251.72,654.70 L266.02,654.70 L258.87,640.70 Z" fill="#2a2aff"/>
<path d="M282.46,654.70 L296.76,654.70 L289.61,640.70 Z" fill="#2a2aff"/>
<path d="M313.82,654.70 L328.12,654.70 L320.97,640.70 Z" fill="#2a2aff"/>
<path d="M344.25,654.70 L358.55,654.70 L351.40,640.70 Z" fill="#2a2aff"/>
<path d="M428.90,471.80 L431.50,469.80 L434.50,468.20 L436.10,467.90 L436.80,470.50 L437.50,476.00 L438.30,492.00 L439.60,515.00 L441.20,539.40 L442.60,556.00 L443.40,562.50 L444.10,565.00 L444.90,562.50 L445.80,556.00 L447.10,539.40 L448.40,518.40 L449.40,500.00 L450.10,489.20 L450.90,484.50 L451.90,481.60 L453.00,480.20 L454.20,479.30 L457.70,477.50 L461.20,475.80 L464.70,472.80 L466.30,471.20 L467.20,472.50 L467.90,478.00 L468.80,489.20 L470.00,512.00 L471.20,530.00 L472.70,560.00 L473.60,574.00 L474.40,580.10 L475.20,574.00 L476.30,560.00 L477.60,539.40 L478.10,520.00 L479.00,500.00 L479.90,489.20 L480.70,483.00 L481.60,479.90 L483.00,478.40 L484.60,477.50 L488.10,474.60 L491.00,472.30 L495.10,469.30 L497.50,468.00 L498.60,469.50 L499.50,475.00 L500.30,489.20 L501.40,513.00 L502.90,539.40 L504.50,556.00 L505.40,561.50 L506.20,563.70 L507.00,561.50 L508.00,556.00 L509.10,539.40 L510.40,515.00 L511.30,500.00 L512.50,490.00 L513.40,485.50 L514.30,482.40 L515.40,480.90 L516.60,480.30 L518.90,480.10 L520.80,481.00 L522.40,482.40 L525.40,485.60 L528.30,487.10 L531.20,485.60 L534.70,481.90 L538.20,477.80 L541.70,473.70 L545.20,470.20 L549.90,467.80 L554.60,466.10 L559.80,465.30 L561.00,466.30 L561.60,471.00 L562.60,490.00 L563.80,515.00 L565.60,545.00 L567.20,567.00 L568.00,577.00 L568.60,581.40 L569.30,577.00 L570.30,567.00 L571.60,545.00 L572.60,520.00 L573.30,505.00 L574.00,492.00 L574.90,486.00 L576.00,482.00 L577.20,480.30 L578.40,479.80 L581.90,479.50 L584.80,481.30 L587.70,485.40 L590.00,486.80 L593.50,484.20 L598.20,478.90 L602.90,474.30 L607.60,470.20 L612.20,467.30 L616.90,466.10 L621.40,465.00 L622.50,466.50 L623.40,472.00 L624.40,490.00 L625.60,515.00 L627.50,545.00 L629.30,566.00 L630.20,573.50 L630.80,577.00 L631.50,573.50 L632.60,566.00 L634.20,545.00 L635.40,525.00 L636.00,511.20 L637.00,490.80 L637.80,485.50 L638.50,483.10 L639.80,481.30 L641.10,480.50 L644.10,481.10 L646.70,483.10 L649.70,484.80 L652.80,484.60 L655.90,482.60 L660.00,479.00 L664.00,475.40 L668.10,471.30 L672.20,468.30 L676.30,466.40 L678.90,465.70" fill="none" stroke="#000" stroke-width="2.1" stroke-linejoin="round" stroke-linecap="round" />
<path d="M436.65,603.70 L450.95,603.70 L443.80,590.20 Z" fill="#2a2aff"/>
<path d="M467.25,603.70 L481.55,603.70 L474.40,590.20 Z" fill="#2a2aff"/>
<path d="M499.05,603.70 L513.35,603.70 L506.20,590.20 Z" fill="#2a2aff"/>
<path d="M561.45,603.70 L575.75,603.70 L568.60,590.20 Z" fill="#2a2aff"/>
<path d="M623.85,603.70 L638.15,603.70 L631.00,590.20 Z" fill="#2a2aff"/>
<path d="M453.30,506.90 L467.30,506.90 L460.30,493.20 Z" fill="#000"/>
<path d="M483.50,506.90 L497.50,506.90 L490.50,493.20 Z" fill="#000"/>
<path d="M522.70,506.90 L536.70,506.90 L529.70,493.20 Z" fill="#000"/>
<path d="M585.10,506.90 L599.10,506.90 L592.10,493.20 Z" fill="#000"/>
<path d="M647.60,506.90 L661.60,506.90 L654.60,493.20 Z" fill="#000"/>
<path d="M514.80,464.20 L529.00,464.20 L521.90,478.10 Z" fill="#ff1a1a"/>
<path d="M577.40,464.20 L591.60,464.20 L584.50,478.10 Z" fill="#ff1a1a"/>
<path d="M638.50,464.20 L652.70,464.20 L645.60,478.10 Z" fill="#ff1a1a"/>
<path d="M113.40,811.20 L118.00,810.90 L119.00,809.20 L119.60,810.00 L120.10,811.20 L120.40,823.57 L120.70,837.48 L121.20,857.58 L122.00,888.50 L123.10,916.33 L124.50,942.61 L125.30,955.75 L126.00,963.48 L126.60,965.80 L127.10,963.48 L127.50,955.75 L128.00,942.61 L128.40,916.33 L129.10,890.05 L129.60,857.58 L130.00,835.94 L130.50,824.34 L131.00,819.24 L131.80,816.15 L132.80,814.45 L134.10,813.21 L135.40,812.51 L138.00,811.74 L142.40,811.20 L147.90,810.70 L149.70,810.60 L150.40,811.20 L150.70,823.46 L151.00,837.26 L151.50,857.19 L152.30,887.85 L153.40,915.44 L154.80,941.50 L155.60,954.54 L156.30,962.20 L156.90,964.50 L157.40,962.20 L157.80,954.54 L158.30,941.50 L158.70,915.44 L159.40,889.38 L159.90,857.19 L160.30,835.73 L160.80,824.23 L161.30,819.17 L162.10,816.11 L163.10,814.42 L164.40,813.19 L165.70,812.50 L168.30,811.74 L172.70,811.20 L178.40,810.70 L180.20,810.60 L180.90,811.20 L181.20,823.65 L181.50,837.65 L182.00,857.88 L182.80,889.00 L183.90,917.01 L185.30,943.46 L186.10,956.69 L186.80,964.47 L187.40,966.80 L187.90,964.47 L188.30,956.69 L188.80,943.46 L189.20,917.01 L189.90,890.56 L190.40,857.88 L190.80,836.10 L191.30,824.43 L191.80,819.29 L192.60,816.18 L193.60,814.47 L194.90,813.22 L196.20,812.52 L198.80,811.74 L203.20,811.20 L208.70,810.70 L210.50,810.60 L211.20,811.20 L211.50,823.53 L211.80,837.40 L212.30,857.43 L213.10,888.25 L214.20,915.99 L215.60,942.18 L216.40,955.28 L217.10,962.99 L217.70,965.30 L218.20,962.99 L218.60,955.28 L219.10,942.18 L219.50,915.99 L220.20,889.79 L220.70,857.43 L221.10,835.86 L221.60,824.30 L222.10,819.21 L222.90,816.13 L223.90,814.44 L225.20,813.20 L226.50,812.51 L229.10,811.74 L233.50,811.20 L238.90,810.70 L240.70,810.60 L241.40,811.20 L241.70,823.53 L242.00,837.40 L242.50,857.43 L243.30,888.25 L244.40,915.99 L245.80,942.18 L246.60,955.28 L247.30,962.99 L247.90,965.30 L248.40,962.99 L248.80,955.28 L249.30,942.18 L249.70,915.99 L250.40,889.79 L250.90,857.43 L251.30,835.86 L251.80,824.30 L252.30,819.21 L253.10,816.13 L254.10,814.44 L255.40,813.20 L256.70,812.51 L259.30,811.74 L263.70,811.20 L269.30,810.70 L271.10,810.60 L271.80,811.20 L272.10,823.53 L272.40,837.40 L272.90,857.43 L273.70,888.25 L274.80,915.99 L276.20,942.18 L277.00,955.28 L277.70,962.99 L278.30,965.30 L278.80,962.99 L279.20,955.28 L279.70,942.18 L280.10,915.99 L280.80,889.79 L281.30,857.43 L281.70,835.86 L282.20,824.30 L282.70,819.21 L283.50,816.13 L284.50,814.44 L285.80,813.20 L287.10,812.51 L289.70,811.74 L294.10,811.20 L299.70,810.70 L301.50,810.60 L302.20,811.20 L302.50,823.53 L302.80,837.40 L303.30,857.43 L304.10,888.25 L305.20,915.99 L306.60,942.18 L307.40,955.28 L308.10,962.99 L308.70,965.30 L309.20,962.99 L309.60,955.28 L310.10,942.18 L310.50,915.99 L311.20,889.79 L311.70,857.43 L312.10,835.86 L312.60,824.30 L313.10,819.21 L313.90,816.13 L314.90,814.44 L316.20,813.20 L317.50,812.51 L320.10,811.74 L324.50,811.20 L330.10,810.70 L331.90,810.60 L332.60,811.20 L332.90,823.53 L333.20,837.40 L333.70,857.43 L334.50,888.25 L335.60,915.99 L337.00,942.18 L337.80,955.28 L338.50,962.99 L339.10,965.30 L339.60,962.99 L340.00,955.28 L340.50,942.18 L340.90,915.99 L341.60,889.79 L342.10,857.43 L342.50,835.86 L343.00,824.30 L343.50,819.21 L344.30,816.13 L345.30,814.44 L346.60,813.20 L347.90,812.51 L350.50,811.74 L354.90,811.20 L356.28,811.20" fill="none" stroke="#000" stroke-width="1.6" stroke-linejoin="round" stroke-linecap="round" />
<path d="M121.00,991.30 L134.20,991.30 L127.60,978.00 Z" fill="#2a2aff"/>
<path d="M151.30,991.30 L164.50,991.30 L157.90,978.00 Z" fill="#2a2aff"/>
<path d="M181.80,991.30 L195.00,991.30 L188.40,978.00 Z" fill="#2a2aff"/>
<path d="M212.10,991.30 L225.30,991.30 L218.70,978.00 Z" fill="#2a2aff"/>
<path d="M242.30,991.30 L255.50,991.30 L248.90,978.00 Z" fill="#2a2aff"/>
<path d="M272.70,991.30 L285.90,991.30 L279.30,978.00 Z" fill="#2a2aff"/>
<path d="M303.10,991.30 L316.30,991.30 L309.70,978.00 Z" fill="#2a2aff"/>
<path d="M333.50,991.30 L346.70,991.30 L340.10,978.00 Z" fill="#2a2aff"/>
<path d="M435.80,812.20 L442.50,812.20 L443.20,810.90 L447.60,810.90 L448.10,811.60 L448.20,812.20 L448.40,823.63 L448.70,836.49 L449.20,855.07 L450.00,885.08 L451.30,912.23 L452.80,937.95 L453.90,950.81 L454.40,954.10 L454.80,955.10 L455.20,954.10 L455.60,950.81 L456.20,937.95 L456.90,912.23 L457.60,885.08 L458.10,855.07 L458.50,835.06 L459.00,822.20 L459.60,817.20 L460.90,813.91 L463.50,812.63 L466.20,812.20 L473.00,812.20 L473.70,810.90 L478.10,810.90 L478.60,811.60 L478.70,812.20 L478.90,823.44 L479.20,836.09 L479.70,854.35 L480.50,883.86 L481.80,910.55 L483.30,935.84 L484.40,948.49 L484.90,951.72 L485.30,952.70 L485.70,951.72 L486.10,948.49 L486.70,935.84 L487.40,910.55 L488.10,883.86 L488.60,854.35 L489.00,834.68 L489.50,822.04 L490.10,817.12 L491.40,813.89 L494.00,812.62 L496.70,812.20 L503.30,812.20 L504.00,810.90 L508.40,810.90 L508.90,811.60 L509.00,812.20 L509.20,823.60 L509.50,836.43 L510.00,854.95 L510.80,884.88 L512.10,911.95 L513.60,937.60 L514.70,950.43 L515.20,953.70 L515.60,954.70 L516.00,953.70 L516.40,950.43 L517.00,937.60 L517.70,911.95 L518.40,884.88 L518.90,854.95 L519.30,835.00 L519.80,822.18 L520.40,817.19 L521.70,813.91 L524.30,812.63 L527.00,812.20 L533.90,812.20 L534.60,810.90 L539.00,810.90 L539.50,811.60 L539.60,812.20 L539.80,823.59 L540.10,836.41 L540.60,854.92 L541.40,884.82 L542.70,911.88 L544.20,937.51 L545.30,950.33 L545.80,953.60 L546.20,954.60 L546.60,953.60 L547.00,950.33 L547.60,937.51 L548.30,911.88 L549.00,884.82 L549.50,854.92 L549.90,834.98 L550.40,822.17 L551.00,817.18 L552.30,813.91 L554.90,812.63 L557.60,812.20 L564.10,812.20 L564.80,810.90 L569.20,810.90 L569.70,811.60 L569.80,812.20 L570.00,823.51 L570.30,836.24 L570.80,854.62 L571.60,884.31 L572.90,911.18 L574.40,936.63 L575.50,949.36 L576.00,952.61 L576.40,953.60 L576.80,952.61 L577.20,949.36 L577.80,936.63 L578.50,911.18 L579.20,884.31 L579.70,854.62 L580.10,834.82 L580.60,822.10 L581.20,817.15 L582.50,813.90 L585.10,812.62 L587.80,812.20 L595.00,812.20 L595.70,810.90 L600.10,810.90 L600.60,811.60 L600.70,812.20 L600.90,823.51 L601.20,836.24 L601.70,854.62 L602.50,884.31 L603.80,911.18 L605.30,936.63 L606.40,949.36 L606.90,952.61 L607.30,953.60 L607.70,952.61 L608.10,949.36 L608.70,936.63 L609.40,911.18 L610.10,884.31 L610.60,854.62 L611.00,834.82 L611.50,822.10 L612.10,817.15 L613.40,813.90 L616.00,812.62 L618.70,812.20 L625.50,812.20 L626.20,810.90 L630.60,810.90 L631.10,811.60 L631.20,812.20 L631.40,823.42 L631.70,836.05 L632.20,854.29 L633.00,883.75 L634.30,910.41 L635.80,935.66 L636.90,948.29 L637.40,951.52 L637.80,952.50 L638.20,951.52 L638.60,948.29 L639.20,935.66 L639.90,910.41 L640.60,883.75 L641.10,854.29 L641.50,834.65 L642.00,822.02 L642.60,817.11 L643.90,813.88 L646.50,812.62 L649.20,812.20 L655.80,812.20 L656.50,810.90 L660.90,810.90 L661.40,811.60 L661.50,812.20 L661.70,823.42 L662.00,836.05 L662.50,854.29 L663.30,883.75 L664.60,910.41 L666.10,935.66 L667.20,948.29 L667.70,951.52 L668.10,952.50 L668.50,951.52 L668.90,948.29 L669.50,935.66 L670.20,910.41 L670.90,883.75 L671.40,854.29 L671.80,834.65 L672.30,822.02 L672.90,817.11 L674.20,813.88 L676.80,812.62 L679.50,812.20 L679.16,812.20" fill="none" stroke="#000" stroke-width="1.6" stroke-linejoin="round" stroke-linecap="round" />
<path d="M449.40,991.30 L462.60,991.30 L456.00,977.50 Z" fill="#2a2aff"/>
<path d="M479.40,991.30 L492.60,991.30 L486.00,977.50 Z" fill="#2a2aff"/>
<path d="M509.70,991.30 L522.90,991.30 L516.30,977.50 Z" fill="#2a2aff"/>
<path d="M540.70,991.30 L553.90,991.30 L547.30,977.50 Z" fill="#2a2aff"/>
<path d="M571.90,991.30 L585.10,991.30 L578.50,977.50 Z" fill="#2a2aff"/>
<path d="M602.20,991.30 L615.40,991.30 L608.80,977.50 Z" fill="#2a2aff"/>
<path d="M631.80,991.30 L645.00,991.30 L638.40,977.50 Z" fill="#2a2aff"/>
<path d="M663.60,991.30 L676.80,991.30 L670.20,977.50 Z" fill="#2a2aff"/>
<text x="-0.14" y="1041.90" font-size="36.11" font-weight="bold" textLength="19.95" lengthAdjust="spacingAndGlyphs" fill="#000">c</text>
<g transform="rotate(-90)"><text x="-1184.02" y="27.90" font-size="17.54" font-weight="normal" textLength="127.39" lengthAdjust="spacingAndGlyphs" fill="#000">Pro-Arrhythmia</text></g>
<g transform="rotate(-90)"><text x="-1177.43" y="48.70" font-size="18.42" font-weight="normal" textLength="114.02" lengthAdjust="spacingAndGlyphs" fill="#000">(% incidence)</text></g>
<path d="M86.30,1052.90 H91.60 V1195.60" fill="none" stroke="#000" stroke-width="2.0"/>
<text x="84.80" y="1059.04" font-size="17.30" font-weight="bold" text-anchor="end" textLength="28.87" lengthAdjust="spacingAndGlyphs" fill="#000">100</text>
<path d="M86.30,1079.86 H91.60" stroke="#000" stroke-width="2.0"/>
<text x="84.80" y="1086.00" font-size="17.30" font-weight="bold" text-anchor="end" textLength="19.24" lengthAdjust="spacingAndGlyphs" fill="#000">80</text>
<path d="M86.30,1106.82 H91.60" stroke="#000" stroke-width="2.0"/>
<text x="84.80" y="1112.96" font-size="17.30" font-weight="bold" text-anchor="end" textLength="19.24" lengthAdjust="spacingAndGlyphs" fill="#000">60</text>
<path d="M86.30,1133.78 H91.60" stroke="#000" stroke-width="2.0"/>
<text x="84.80" y="1139.92" font-size="17.30" font-weight="bold" text-anchor="end" textLength="19.24" lengthAdjust="spacingAndGlyphs" fill="#000">40</text>
<path d="M86.30,1160.74 H91.60" stroke="#000" stroke-width="2.0"/>
<text x="84.80" y="1166.88" font-size="17.30" font-weight="bold" text-anchor="end" textLength="19.24" lengthAdjust="spacingAndGlyphs" fill="#000">20</text>
<path d="M86.30,1187.70 H91.60" stroke="#000" stroke-width="2.0"/>
<text x="84.80" y="1193.84" font-size="17.30" font-weight="bold" text-anchor="end" textLength="9.62" lengthAdjust="spacingAndGlyphs" fill="#000">0</text>
<path d="M106.10,1210.4 H250.50" stroke="#000" stroke-width="2.0"/>
<path d="M107.10,1210.4 V1215.8" stroke="#000" stroke-width="2.0"/>
<path d="M142.50,1210.4 V1215.8" stroke="#000" stroke-width="2.0"/>
<path d="M178.00,1210.4 V1215.8" stroke="#000" stroke-width="2.0"/>
<path d="M213.50,1210.4 V1215.8" stroke="#000" stroke-width="2.0"/>
<path d="M249.50,1210.4 V1215.8" stroke="#000" stroke-width="2.0"/>
<path d="M124.80,1210.4 V1213.8" stroke="#000" stroke-width="2.0"/>
<path d="M160.25,1210.4 V1213.8" stroke="#000" stroke-width="2.0"/>
<path d="M195.75,1210.4 V1213.8" stroke="#000" stroke-width="2.0"/>
<path d="M231.50,1210.4 V1213.8" stroke="#000" stroke-width="2.0"/>
<text x="107.10" y="1233.60" font-size="16.50" font-weight="bold" text-anchor="middle" textLength="33.08" lengthAdjust="spacingAndGlyphs" fill="#000">0.01</text>
<text x="142.50" y="1233.60" font-size="16.50" font-weight="bold" text-anchor="middle" textLength="23.63" lengthAdjust="spacingAndGlyphs" fill="#000">0.1</text>
<text x="178.00" y="1233.60" font-size="16.50" font-weight="bold" text-anchor="middle" textLength="9.45" lengthAdjust="spacingAndGlyphs" fill="#000">1</text>
<text x="213.50" y="1233.60" font-size="16.50" font-weight="bold" text-anchor="middle" textLength="18.90" lengthAdjust="spacingAndGlyphs" fill="#000">10</text>
<text x="249.50" y="1233.60" font-size="16.50" font-weight="bold" text-anchor="middle" textLength="28.36" lengthAdjust="spacingAndGlyphs" fill="#000">100</text>
<text x="121.03" y="1258.60" font-size="17.97" font-weight="bold" textLength="114.12" lengthAdjust="spacingAndGlyphs" fill="#000">[Noribogaine]</text>
<text x="159.60" y="1278.40" font-size="16.96" font-weight="bold" textLength="37.20" lengthAdjust="spacingAndGlyphs" fill="#000">(µM)</text>
<path d="M142.80,1187.70 L178.30,1187.70 L195.90,1187.70 L213.90,1187.70" fill="none" stroke="#2010ff" stroke-width="2.0" stroke-linejoin="round" stroke-linecap="round" />
<path d="M138.20,1183.00 L147.40,1183.00 L142.80,1192.00 Z" fill="#2010ff"/>
<path d="M173.70,1183.00 L182.90,1183.00 L178.30,1192.00 Z" fill="#2010ff"/>
<path d="M191.30,1183.00 L200.50,1183.00 L195.90,1192.00 Z" fill="#2010ff"/>
<path d="M209.30,1183.00 L218.50,1183.00 L213.90,1192.00 Z" fill="#2010ff"/>
<path d="M142.80,1187.70 L178.30,1187.70 L195.90,1187.70 L213.90,1187.70" fill="none" stroke="#fa6020" stroke-width="2.0" stroke-linejoin="round" stroke-linecap="round" />
<path d="M138.20,1192.30 L147.40,1192.30 L142.80,1183.50 Z" fill="#fa6020"/>
<path d="M173.70,1192.30 L182.90,1192.30 L178.30,1183.50 Z" fill="#fa6020"/>
<path d="M191.30,1192.30 L200.50,1192.30 L195.90,1183.50 Z" fill="#fa6020"/>
<path d="M209.30,1192.30 L218.50,1192.30 L213.90,1183.50 Z" fill="#fa6020"/>
<path d="M142.80,1187.70 L178.30,1187.70 L195.90,1165.19 L213.90,1165.19" fill="none" stroke="#a81a14" stroke-width="2.0" stroke-linejoin="round" stroke-linecap="round" />
<circle cx="142.80" cy="1187.70" r="4.80" fill="#a81a14"/>
<circle cx="178.30" cy="1187.70" r="4.80" fill="#a81a14"/>
<circle cx="195.90" cy="1165.19" r="4.80" fill="#a81a14"/>
<circle cx="213.90" cy="1165.19" r="4.80" fill="#a81a14"/>
<path d="M142.80,1165.19 L178.30,1142.81 L195.90,1120.30 L213.90,1120.30" fill="none" stroke="#000" stroke-width="2.2" stroke-linejoin="round" stroke-linecap="round" />
<rect x="137.90" y="1160.29" width="9.80" height="9.80" fill="#000"/>
<rect x="173.40" y="1137.91" width="9.80" height="9.80" fill="#000"/>
<rect x="191.00" y="1115.40" width="9.80" height="9.80" fill="#000"/>
<rect x="209.00" y="1115.40" width="9.80" height="9.80" fill="#000"/>
<path d="M310.50,1055.70 H315.80 V1195.30" fill="none" stroke="#000" stroke-width="2.0"/>
<text x="307.20" y="1062.34" font-size="17.30" font-weight="bold" text-anchor="end" textLength="28.87" lengthAdjust="spacingAndGlyphs" fill="#000">100</text>
<path d="M310.50,1083.62 H315.80" stroke="#000" stroke-width="2.0"/>
<text x="307.20" y="1090.26" font-size="17.30" font-weight="bold" text-anchor="end" textLength="19.24" lengthAdjust="spacingAndGlyphs" fill="#000">80</text>
<path d="M310.50,1111.54 H315.80" stroke="#000" stroke-width="2.0"/>
<text x="307.20" y="1118.18" font-size="17.30" font-weight="bold" text-anchor="end" textLength="19.24" lengthAdjust="spacingAndGlyphs" fill="#000">60</text>
<path d="M310.50,1139.46 H315.80" stroke="#000" stroke-width="2.0"/>
<text x="307.20" y="1146.10" font-size="17.30" font-weight="bold" text-anchor="end" textLength="19.24" lengthAdjust="spacingAndGlyphs" fill="#000">40</text>
<path d="M310.50,1167.38 H315.80" stroke="#000" stroke-width="2.0"/>
<text x="307.20" y="1174.02" font-size="17.30" font-weight="bold" text-anchor="end" textLength="19.24" lengthAdjust="spacingAndGlyphs" fill="#000">20</text>
<path d="M310.50,1195.30 H315.80" stroke="#000" stroke-width="2.0"/>
<text x="307.20" y="1201.94" font-size="17.30" font-weight="bold" text-anchor="end" textLength="9.62" lengthAdjust="spacingAndGlyphs" fill="#000">0</text>
<path d="M330.00,1211.6 H471.80" stroke="#000" stroke-width="2.0"/>
<path d="M346.50,1211.6 V1216.6" stroke="#000" stroke-width="2.0"/>
<g transform="translate(351.30,1232.1) rotate(-45)"><text x="0.00" y="0.00" font-size="16.00" font-weight="bold" text-anchor="end" textLength="31.14" lengthAdjust="spacingAndGlyphs" fill="#000">0.10</text></g>
<circle cx="343.50" cy="1196.00" r="4.80" fill="#a81a14"/>
<rect x="330.00" y="1191.10" width="9.80" height="9.80" fill="#000"/>
<path d="M346.00,1200.80 L355.60,1200.80 L350.80,1191.10 Z" fill="#fa6020"/>
<path d="M353.75,1191.10 L363.45,1191.10 L358.60,1200.80 Z" fill="#2010ff"/>
<path d="M382.70,1211.6 V1216.6" stroke="#000" stroke-width="2.0"/>
<g transform="translate(387.50,1232.1) rotate(-45)"><text x="0.00" y="0.00" font-size="16.00" font-weight="bold" text-anchor="end" textLength="31.14" lengthAdjust="spacingAndGlyphs" fill="#000">1.00</text></g>
<circle cx="379.70" cy="1196.00" r="4.80" fill="#a81a14"/>
<rect x="366.20" y="1191.10" width="9.80" height="9.80" fill="#000"/>
<path d="M382.20,1200.80 L391.80,1200.80 L387.00,1191.10 Z" fill="#fa6020"/>
<path d="M389.95,1191.10 L399.65,1191.10 L394.80,1200.80 Z" fill="#2010ff"/>
<path d="M418.90,1211.6 V1216.6" stroke="#000" stroke-width="2.0"/>
<g transform="translate(423.70,1232.1) rotate(-45)"><text x="0.00" y="0.00" font-size="16.00" font-weight="bold" text-anchor="end" textLength="31.14" lengthAdjust="spacingAndGlyphs" fill="#000">3.16</text></g>
<circle cx="415.90" cy="1196.00" r="4.80" fill="#a81a14"/>
<rect x="402.40" y="1191.10" width="9.80" height="9.80" fill="#000"/>
<path d="M418.40,1200.80 L428.00,1200.80 L423.20,1191.10 Z" fill="#fa6020"/>
<path d="M426.15,1191.10 L435.85,1191.10 L431.00,1200.80 Z" fill="#2010ff"/>
<path d="M455.10,1211.6 V1216.6" stroke="#000" stroke-width="2.0"/>
<g transform="translate(459.90,1232.1) rotate(-45)"><text x="0.00" y="0.00" font-size="16.00" font-weight="bold" text-anchor="end" textLength="40.04" lengthAdjust="spacingAndGlyphs" fill="#000">10.00</text></g>
<circle cx="452.10" cy="1196.00" r="4.80" fill="#a81a14"/>
<rect x="438.60" y="1191.10" width="9.80" height="9.80" fill="#000"/>
<path d="M454.60,1200.80 L464.20,1200.80 L459.40,1191.10 Z" fill="#fa6020"/>
<path d="M462.35,1191.10 L472.05,1191.10 L467.20,1200.80 Z" fill="#2010ff"/>
<text x="318.05" y="1283.90" font-size="16.96" font-weight="bold" textLength="165.11" lengthAdjust="spacingAndGlyphs" fill="#000">[Oxa-noriboga] (µM)</text>
<path d="M514.40,1055.70 H519.70 V1195.30" fill="none" stroke="#000" stroke-width="2.0"/>
<text x="511.10" y="1062.34" font-size="17.30" font-weight="bold" text-anchor="end" textLength="28.87" lengthAdjust="spacingAndGlyphs" fill="#000">100</text>
<path d="M514.40,1083.62 H519.70" stroke="#000" stroke-width="2.0"/>
<text x="511.10" y="1090.26" font-size="17.30" font-weight="bold" text-anchor="end" textLength="19.24" lengthAdjust="spacingAndGlyphs" fill="#000">80</text>
<path d="M514.40,1111.54 H519.70" stroke="#000" stroke-width="2.0"/>
<text x="511.10" y="1118.18" font-size="17.30" font-weight="bold" text-anchor="end" textLength="19.24" lengthAdjust="spacingAndGlyphs" fill="#000">60</text>
<path d="M514.40,1139.46 H519.70" stroke="#000" stroke-width="2.0"/>
<text x="511.10" y="1146.10" font-size="17.30" font-weight="bold" text-anchor="end" textLength="19.24" lengthAdjust="spacingAndGlyphs" fill="#000">40</text>
<path d="M514.40,1167.38 H519.70" stroke="#000" stroke-width="2.0"/>
<text x="511.10" y="1174.02" font-size="17.30" font-weight="bold" text-anchor="end" textLength="19.24" lengthAdjust="spacingAndGlyphs" fill="#000">20</text>
<path d="M514.40,1195.30 H519.70" stroke="#000" stroke-width="2.0"/>
<text x="511.10" y="1201.94" font-size="17.30" font-weight="bold" text-anchor="end" textLength="9.62" lengthAdjust="spacingAndGlyphs" fill="#000">0</text>
<path d="M533.90,1211.6 H675.70" stroke="#000" stroke-width="2.0"/>
<path d="M550.40,1211.6 V1216.6" stroke="#000" stroke-width="2.0"/>
<g transform="translate(555.20,1232.1) rotate(-45)"><text x="0.00" y="0.00" font-size="16.00" font-weight="bold" text-anchor="end" textLength="31.14" lengthAdjust="spacingAndGlyphs" fill="#000">0.10</text></g>
<circle cx="547.40" cy="1196.00" r="4.80" fill="#a81a14"/>
<rect x="533.90" y="1191.10" width="9.80" height="9.80" fill="#000"/>
<path d="M549.90,1200.80 L559.50,1200.80 L554.70,1191.10 Z" fill="#fa6020"/>
<path d="M557.65,1191.10 L567.35,1191.10 L562.50,1200.80 Z" fill="#2010ff"/>
<path d="M586.60,1211.6 V1216.6" stroke="#000" stroke-width="2.0"/>
<g transform="translate(591.40,1232.1) rotate(-45)"><text x="0.00" y="0.00" font-size="16.00" font-weight="bold" text-anchor="end" textLength="31.14" lengthAdjust="spacingAndGlyphs" fill="#000">1.00</text></g>
<circle cx="583.60" cy="1196.00" r="4.80" fill="#a81a14"/>
<rect x="570.10" y="1191.10" width="9.80" height="9.80" fill="#000"/>
<path d="M586.10,1200.80 L595.70,1200.80 L590.90,1191.10 Z" fill="#fa6020"/>
<path d="M593.85,1191.10 L603.55,1191.10 L598.70,1200.80 Z" fill="#2010ff"/>
<path d="M622.80,1211.6 V1216.6" stroke="#000" stroke-width="2.0"/>
<g transform="translate(627.60,1232.1) rotate(-45)"><text x="0.00" y="0.00" font-size="16.00" font-weight="bold" text-anchor="end" textLength="31.14" lengthAdjust="spacingAndGlyphs" fill="#000">3.16</text></g>
<circle cx="619.80" cy="1196.00" r="4.80" fill="#a81a14"/>
<rect x="606.30" y="1191.10" width="9.80" height="9.80" fill="#000"/>
<path d="M622.30,1200.80 L631.90,1200.80 L627.10,1191.10 Z" fill="#fa6020"/>
<path d="M630.05,1191.10 L639.75,1191.10 L634.90,1200.80 Z" fill="#2010ff"/>
<path d="M659.00,1211.6 V1216.6" stroke="#000" stroke-width="2.0"/>
<g transform="translate(663.80,1232.1) rotate(-45)"><text x="0.00" y="0.00" font-size="16.00" font-weight="bold" text-anchor="end" textLength="40.04" lengthAdjust="spacingAndGlyphs" fill="#000">10.00</text></g>
<circle cx="656.00" cy="1196.00" r="4.80" fill="#a81a14"/>
<rect x="642.50" y="1191.10" width="9.80" height="9.80" fill="#000"/>
<path d="M658.50,1200.80 L668.10,1200.80 L663.30,1191.10 Z" fill="#fa6020"/>
<path d="M666.25,1191.10 L675.95,1191.10 L671.10,1200.80 Z" fill="#2010ff"/>
<text x="546.33" y="1283.90" font-size="16.96" font-weight="bold" textLength="116.56" lengthAdjust="spacingAndGlyphs" fill="#000">[Epi-oxa] (µM)</text>
<path d="M25.5,1322.8 H64.4" stroke="#000" stroke-width="5.2"/>
<rect x="37.50" y="1315.30" width="15.00" height="15.00" fill="#000"/>
<path d="M25.5,1362.5 H64.4" stroke="#fa6020" stroke-width="5.2"/>
<path d="M37.35,1370.40 L52.65,1370.40 L45.00,1355.70 Z" fill="#fa6020"/>
<path d="M359.4,1323.0 H397.9" stroke="#a81a14" stroke-width="5.5"/>
<circle cx="378.60" cy="1322.80" r="7.60" fill="#a81a14"/>
<path d="M359.4,1362.5 H397.9" stroke="#2010ff" stroke-width="5.2"/>
<path d="M371.25,1355.20 L386.15,1355.20 L378.70,1369.70 Z" fill="#2010ff"/>
<text x="85.08" y="1331.10" font-size="25.80" font-weight="bold" textLength="235.33" lengthAdjust="spacingAndGlyphs" fill="#000">After-Contraction %</text>
<text x="85.38" y="1370.70" font-size="25.36" font-weight="bold" textLength="143.02" lengthAdjust="spacingAndGlyphs" fill="#000">Alternans %</text>
<text x="419.50" y="1331.40" font-size="26.29" font-weight="bold" textLength="257.41" lengthAdjust="spacingAndGlyphs" fill="#000">Contraction Failure %</text>
<text x="419.97" y="1371.00" font-size="25.86" font-weight="bold" textLength="75.48" lengthAdjust="spacingAndGlyphs" fill="#000">STV %</text>
</svg></body></html>
